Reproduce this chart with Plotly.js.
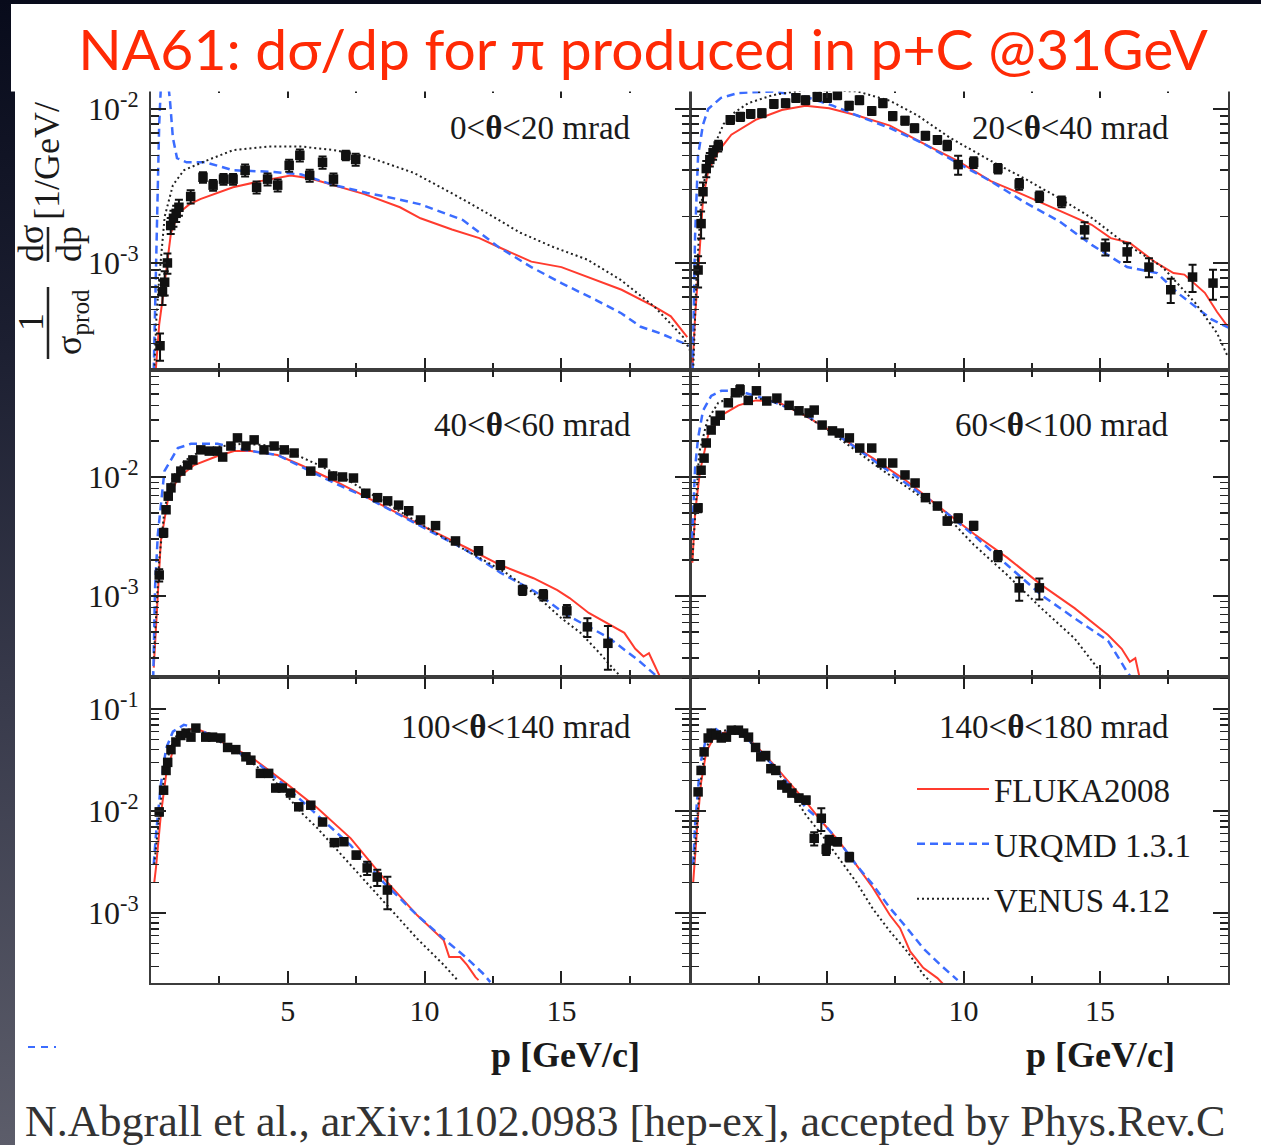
<!DOCTYPE html>
<html><head><meta charset="utf-8">
<script src="https://cdn.plot.ly/plotly-3.0.1.min.js"></script>
<style>
html,body{margin:0;padding:0;width:1261px;height:1145px;overflow:hidden;
background:linear-gradient(180deg,#080b1b 0%,#1c1f31 30%,#393b4c 62%,#5c5d6a 100%);}
#chart{width:1261px;height:1145px;}
</style></head><body><div id="chart"></div>
<script>
// ---------- data: panel 1 (0<theta<20 mrad) ----------
const p1_p=[0.33,0.42,0.5,0.6,0.72,0.82,0.92,1.02,1.45,1.9,2.27,2.65,3.0,3.44,3.86,4.26,4.63,5.05,5.44,5.8,6.27,6.67,7.12,7.48];
const p1_y=[2.9e-4,6.5e-4,7.5e-4,1.0e-3,1.75e-3,1.95e-3,2.1e-3,2.3e-3,2.7e-3,3.6e-3,3.2e-3,3.5e-3,3.5e-3,4.0e-3,3.1e-3,3.5e-3,3.2e-3,4.3e-3,5.0e-3,3.7e-3,4.5e-3,3.5e-3,5.0e-3,4.7e-3];
const p1_e=[20,18,18,15,12,12,12,12,10,8,8,8,8,9,9,9,9,9,9,9,9,9,7,9];
const f1_p=[0.12,0.18,0.3,0.47,0.73,1.0,1.4,1.8,2.4,3.0,4.0,5.1,5.8,6.7,7.8,9.1,9.85,11.0,12.0,12.7,13.9,15.0,16.2,17.2,18.4,19.0,19.6];
const f1_y=[1.5e-4,2.1e-4,4e-4,6.7e-4,1.57e-3,2.1e-3,2.4e-3,2.6e-3,2.85e-3,3.1e-3,3.4e-3,3.7e-3,3.55e-3,3.2e-3,2.8e-3,2.3e-3,1.95e-3,1.65e-3,1.45e-3,1.27e-3,1.02e-3,9.4e-4,7.8e-4,6.7e-4,5.2e-4,4.5e-4,3.3e-4];
const u1_p=[0.1,0.2,0.3,0.4,0.55,0.7,0.8,0.95,1.3,2.0,3.0,4.5,5.5,6.7,7.9,9.0,9.85,11.4,12.7,13.9,15.0,16.3,17.2,17.9,18.6,19.3,19.7];
const u1_y=[2e-4,1.5e-3,8e-3,2e-2,2e-2,1.1e-2,6.5e-3,4.8e-3,4.5e-3,4.5e-3,4.0e-3,3.9e-3,3.75e-3,3.2e-3,2.85e-3,2.6e-3,2.4e-3,1.9e-3,1.27e-3,9.4e-4,7.4e-4,5.7e-4,4.7e-4,3.85e-4,3.5e-4,3.1e-4,2.9e-4];
const v1_p=[0.12,0.2,0.3,0.5,0.8,1.2,2.0,3.0,4.3,5.5,6.7,7.9,9.6,11.1,12.3,13.5,14.7,15.95,17.15,18.4,19.1,19.45,19.7];
const v1_y=[2e-4,4.5e-4,8e-4,2e-3,3.2e-3,4e-3,4.6e-3,5.4e-3,5.7e-3,5.7e-3,5.4e-3,4.9e-3,3.85e-3,2.77e-3,2.1e-3,1.57e-3,1.27e-3,1.05e-3,7.8e-4,5.2e-4,3.85e-4,3.3e-4,2.7e-4];

// ---------- panel 2 (20<theta<40 mrad) ----------
const p2_p=[0.26,0.37,0.44,0.56,0.69,0.81,1.0,1.44,1.81,2.19,2.6,3.04,3.47,3.85,4.2,4.63,5.0,5.37,5.8,6.18,6.63,7.04,7.4,7.85,8.2,8.6,9.04,9.4,9.8,10.37,11.26,12.04,12.78,13.6,14.44,15.2,16.0,16.8,17.6,18.4,19.15];
const p2_y=[9.0e-4,1.8e-3,2.9e-3,4.1e-3,4.7e-3,5.2e-3,5.75e-3,8.5e-3,8.9e-3,9.3e-3,9.4e-3,1.08e-2,1.09e-2,1.18e-2,1.14e-2,1.2e-2,1.18e-2,1.23e-2,1.05e-2,1.14e-2,9.7e-3,1.09e-2,9.0e-3,8.4e-3,7.5e-3,6.7e-3,6.3e-3,5.8e-3,4.35e-3,4.5e-3,4.1e-3,3.25e-3,2.7e-3,2.5e-3,1.64e-3,1.27e-3,1.18e-3,9.4e-4,6.7e-4,8.1e-4,7.4e-4];
const p2_e=[23,20,15,12,10,10,8,6,6,6,6,6,6,6,6,6,6,6,6,6,6,6,6,6,6,6,6,7,14,8,7,8,8,8,12,12,14,14,18,20,22];
const f2_p=[0.05,0.15,0.26,0.44,0.63,1.0,1.48,2.37,3.33,4.2,5.07,6.07,7.3,8.5,9.78,11.0,12.2,13.5,14.7,15.4,16.1,17.0,17.7,18.1,18.85,19.3,19.7];
const f2_y=[2.0e-4,4.5e-4,8.4e-4,2.6e-3,3.95e-3,5.3e-3,6.8e-3,8.5e-3,9.85e-3,1.05e-2,1.01e-2,9.1e-3,7.8e-3,6.0e-3,4.6e-3,3.4e-3,2.77e-3,2.2e-3,1.77e-3,1.45e-3,1.35e-3,1.02e-3,8.6e-4,8.4e-4,6.4e-4,4.8e-4,3.85e-4];
const u2_p=[0.06,0.15,0.26,0.44,0.63,1.1,1.74,3.0,4.2,5.2,6.07,7.3,8.5,9.78,11.0,12.2,13.5,14.7,16.0,17.1,17.85,18.6,19.1,19.85];
const u2_y=[2e-4,1.5e-3,5e-3,7.9e-3,1.0e-2,1.18e-2,1.27e-2,1.3e-2,1.2e-2,1.05e-2,9.1e-3,7.5e-3,6.0e-3,4.45e-3,3.4e-3,2.5e-3,1.87e-3,1.31e-3,9.4e-4,8.6e-4,6.4e-4,5.0e-4,4.3e-4,3.7e-4];
const v2_p=[0.08,0.2,0.35,0.5,0.8,1.2,1.6,2.1,3.0,4.2,6.1,7.3,8.3,9.5,11.0,12.2,13.5,14.7,15.9,17.3,18.5,19.3,19.7];
const v2_y=[2e-4,8e-4,2.2e-3,3.5e-3,5.5e-3,8e-3,9.5e-3,1.09e-2,1.23e-2,1.33e-2,1.3e-2,1.13e-2,9.1e-3,6.5e-3,4.6e-3,3.56e-3,2.64e-3,1.96e-3,1.35e-3,9.4e-4,5.5e-4,3.5e-4,2.45e-4];

// ---------- panel 3 (40<theta<60 mrad) ----------
const p3_p=[0.3,0.46,0.55,0.63,0.73,0.91,1.09,1.34,1.53,1.82,2.13,2.43,2.62,2.92,3.16,3.47,3.77,4.13,4.5,4.87,5.23,5.84,6.28,6.64,7.0,7.4,7.85,8.28,8.65,9.05,9.42,9.85,10.4,11.13,11.97,12.77,13.58,14.34,15.2,15.95,16.7];
const p3_y=[1.5e-3,3.4e-3,5.3e-3,6.9e-3,8.1e-3,9.8e-3,1.12e-2,1.26e-2,1.39e-2,1.69e-2,1.65e-2,1.65e-2,1.47e-2,1.82e-2,2.13e-2,1.82e-2,2.05e-2,1.69e-2,1.82e-2,1.69e-2,1.59e-2,1.12e-2,1.31e-2,1.02e-2,1.0e-2,9.8e-3,7.3e-3,6.7e-3,6.3e-3,5.8e-3,5.2e-3,4.35e-3,3.9e-3,2.9e-3,2.4e-3,1.82e-3,1.12e-3,1.02e-3,7.5e-4,5.5e-4,4.0e-4];
const p3_e=[12,8,6,6,5,5,5,5,5,5,5,5,5,5,5,5,5,5,5,5,5,5,5,5,5,5,5,5,5,5,5,5,6,6,7,8,9,10,12,18,40];
const f3_p=[0.1,0.18,0.36,0.61,0.98,1.58,2.43,3.04,3.65,4.62,5.47,6.7,7.9,9.1,10.3,11.55,12.77,13.98,14.85,15.3,16.0,17.3,17.7,18.0,18.2,18.6];
const f3_y=[2.5e-4,5.7e-4,2.9e-3,6.3e-3,9.8e-3,1.26e-2,1.5e-2,1.65e-2,1.65e-2,1.53e-2,1.26e-2,9.3e-3,6.7e-3,4.8e-3,3.5e-3,2.53e-3,1.82e-3,1.41e-3,1.12e-3,9.6e-4,7.2e-4,4.9e-4,3.6e-4,3.1e-4,3.3e-4,2.1e-4];
const u3_p=[0.08,0.15,0.25,0.49,0.98,1.46,2.43,3.4,4.62,5.6,6.7,7.9,9.1,10.3,11.55,12.77,14.0,15.2,16.7,17.8,18.5];
const u3_y=[2e-4,1.2e-3,3.3e-3,1.12e-2,1.75e-2,1.9e-2,1.9e-2,1.69e-2,1.53e-2,1.19e-2,8.9e-3,6.7e-3,4.8e-3,3.4e-3,2.4e-3,1.57e-3,1.1e-3,6.9e-4,4.5e-4,2.9e-4,2.1e-4];
const v3_p=[0.1,0.3,0.5,0.8,1.2,1.8,2.5,3.3,4.2,5.0,6.0,7.0,8.0,9.0,10.0,11.0,12.0,13.0,14.0,15.0,15.7,16.4,17.0,17.3];
const v3_y=[3e-4,2e-3,5.5e-3,1.0e-2,1.35e-2,1.65e-2,1.8e-2,1.9e-2,1.85e-2,1.65e-2,1.3e-2,1.0e-2,7.3e-3,5.3e-3,3.9e-3,2.8e-3,2.1e-3,1.55e-3,1.05e-3,6.5e-4,4.9e-4,3.3e-4,2.3e-4,2.0e-4];

// ---------- panel 4 (60<theta<100 mrad) ----------
const p4_p=[0.26,0.37,0.48,0.56,0.74,0.89,1.07,1.37,1.63,1.8,2.1,2.4,2.78,3.15,3.6,3.96,4.33,4.52,4.81,5.19,5.44,5.81,6.19,6.63,7.0,7.4,7.85,8.22,8.6,9.04,9.4,9.8,10.37,11.26,12.04,12.78];
const p4_y=[5.5e-3,1.14e-2,1.44e-2,1.93e-2,2.48e-2,2.95e-2,3.3e-2,4.2e-2,5.1e-2,5.4e-2,4.4e-2,5.3e-2,4.35e-2,4.6e-2,4.0e-2,3.6e-2,3.45e-2,3.65e-2,2.73e-2,2.44e-2,2.34e-2,2.13e-2,1.75e-2,1.75e-2,1.31e-2,1.31e-2,1.04e-2,8.9e-3,6.7e-3,5.7e-3,4.27e-3,4.5e-3,3.9e-3,2.17e-3,1.17e-3,1.17e-3];
const p4_e=[8,6,5,5,5,5,5,5,5,9,5,5,5,5,5,5,5,5,5,5,5,5,5,5,5,5,5,5,6,6,7,8,8,10,22,20];
const f4_p=[0.05,0.15,0.33,0.63,1.11,1.74,2.37,3.11,4.22,5.44,6.67,7.9,9.15,10.4,11.6,12.85,14.07,15.3,15.8,16.1,16.3,16.45];
const f4_y=[1.9e-3,5e-3,1.12e-2,2.25e-2,3.3e-2,4.0e-2,4.4e-2,4.35e-2,3.25e-2,2.2e-2,1.44e-2,9.3e-3,5.5e-3,3.3e-3,2.1e-3,1.24e-3,7.9e-4,4.7e-4,3.6e-4,2.8e-4,3.0e-4,2.1e-4];
const u4_p=[0.04,0.15,0.26,0.44,0.74,1.11,1.74,2.37,3.11,4.22,5.44,6.67,7.9,9.15,10.4,11.6,12.85,14.07,15.3,16.0,16.2];
const u4_y=[3e-3,1.2e-2,2.13e-2,3.6e-2,4.8e-2,5.3e-2,5.3e-2,4.8e-2,4.2e-2,3.3e-2,2.2e-2,1.4e-2,8.8e-3,5.5e-3,3.2e-3,1.82e-3,1.02e-3,6.5e-4,4.2e-4,2.3e-4,2.0e-4];
const v4_p=[0.05,0.3,0.6,1.0,1.6,2.2,3.0,4.0,5.0,6.0,7.0,8.0,8.7,9.26,10.37,11.6,12.85,14.07,14.96,15.15];
const v4_y=[2e-3,1.6e-2,3e-2,4.2e-2,4.8e-2,4.7e-2,4.3e-2,3.5e-2,2.5e-2,1.7e-2,1.15e-2,8e-3,6.2e-3,5.0e-3,2.7e-3,1.5e-3,7.9e-4,4.4e-4,2.4e-4,2.05e-4];

// ---------- panel 5 (100<theta<140 mrad) ----------
const p5_p=[0.3,0.46,0.55,0.61,0.73,0.91,1.09,1.28,1.46,1.64,2.0,2.25,2.55,2.8,3.1,3.47,3.65,4.0,4.3,4.56,4.8,5.1,5.4,5.84,6.27,6.7,7.05,7.5,7.9,8.27,8.64];
const p5_y=[9.8e-3,1.6e-2,2.5e-2,3.0e-2,4.0e-2,4.75e-2,5.5e-2,5.8e-2,5.3e-2,6.5e-2,5.3e-2,5.3e-2,5.2e-2,4.2e-2,4.0e-2,3.4e-2,3.15e-2,2.34e-2,2.34e-2,1.68e-2,1.68e-2,1.5e-2,1.1e-2,1.14e-2,7.8e-3,4.9e-3,5.0e-3,3.7e-3,2.77e-3,2.25e-3,1.68e-3];
const p5_e=[8,6,5,5,5,5,5,5,5,5,5,5,5,5,5,5,5,5,5,5,5,5,6,6,6,7,7,8,15,18,35];
const f5_p=[0.12,0.18,0.36,0.55,0.85,1.2,1.58,2.07,2.8,3.65,4.87,6.08,7.3,8.5,9.73,10.7,10.9,11.3,11.55,11.86,11.97];
const f5_y=[2e-3,2.75e-3,9.2e-3,2.25e-2,4.4e-2,6.0e-2,6.5e-2,5.8e-2,4.4e-2,3.4e-2,1.93e-2,1.07e-2,5.4e-3,2.2e-3,9.5e-4,5.4e-4,3.7e-4,3.7e-4,3.1e-4,2.35e-4,2.2e-4];
const u5_p=[0.1,0.18,0.36,0.55,0.8,1.2,1.7,2.43,3.2,4.0,4.87,6.08,7.3,8.5,9.73,10.7,11.55,12.17,12.4];
const u5_y=[3e-3,5.8e-3,1.8e-2,4.1e-2,6.0e-2,7e-2,6.5e-2,5e-2,3.8e-2,2.8e-2,1.8e-2,9.2e-3,4.6e-3,2.0e-3,9.5e-4,5.6e-4,3.6e-4,2.5e-4,2.1e-4];
const v5_p=[0.12,0.35,0.55,0.85,1.2,1.6,2.1,2.8,3.6,4.5,5.47,6.08,7.3,8.5,9.73,10.7,11.2];
const v5_y=[3e-3,1.2e-2,3e-2,5.2e-2,6.3e-2,6.3e-2,5.6e-2,4.3e-2,3.1e-2,2.0e-2,9.8e-3,6.8e-3,2.95e-3,1.29e-3,5.6e-4,3.1e-4,2.2e-4];

// ---------- panel 6 (140<theta<180 mrad) ----------
const p6_p=[0.26,0.37,0.48,0.63,0.74,0.93,1.11,1.3,1.48,1.74,1.93,2.11,2.37,2.56,2.74,2.93,3.11,3.33,3.52,3.7,3.96,4.22,4.52,4.78,4.96,5.07,5.37,5.81];
const p6_y=[1.54e-2,2.5e-2,3.8e-2,5.2e-2,5.8e-2,5.55e-2,5.2e-2,5.3e-2,6.2e-2,6.2e-2,5.8e-2,5.3e-2,4.2e-2,3.4e-2,3.5e-2,2.6e-2,2.5e-2,1.8e-2,1.68e-2,1.5e-2,1.34e-2,1.28e-2,5.4e-3,8.5e-3,4.2e-3,5.2e-3,5.0e-3,3.55e-3];
const p6_e=[6,5,5,5,5,5,5,5,5,5,5,5,5,6,6,6,6,7,7,7,8,8,15,25,12,10,8,10];
const f6_p=[0.08,0.15,0.26,0.37,0.56,0.89,1.37,1.85,2.37,2.96,3.59,4.22,4.81,5.44,6.07,6.67,7.3,7.67,8.04,8.52,9.04,9.26];
const f6_y=[2e-3,3.7e-3,9.1e-3,1.9e-2,3.8e-2,5.6e-2,6e-2,5.8e-2,4.4e-2,3.0e-2,1.9e-2,1.23e-2,7.8e-3,5.0e-3,2.95e-3,1.77e-3,9.5e-4,7.1e-4,4.2e-4,2.9e-4,2.3e-4,2e-4];
const u6_p=[0.08,0.15,0.33,0.52,0.81,1.11,1.48,2.0,2.37,2.96,3.59,4.22,4.81,5.44,6.07,6.67,7.3,7.93,8.52,9.15,9.78];
const u6_y=[3e-3,7.3e-3,2.8e-2,4.7e-2,6.7e-2,5.8e-2,6.2e-2,5.3e-2,4.2e-2,2.9e-2,1.8e-2,1.07e-2,7.8e-3,5.0e-3,2.95e-3,1.9e-3,1.12e-3,7.1e-4,4.5e-4,3.1e-4,2.2e-4];
const v6_p=[0.1,0.3,0.5,0.8,1.3,1.8,2.4,3.0,3.6,4.22,4.81,5.44,6.07,6.67,7.3,7.93,8.52,8.8];
const v6_y=[3e-3,1.5e-2,3.8e-2,5.8e-2,6.2e-2,5.8e-2,4.2e-2,2.8e-2,1.65e-2,9.1e-3,5.8e-3,3.45e-3,2.0e-3,1.1e-3,6.6e-4,4.2e-4,2.5e-4,2.1e-4];

// ---------- labels ----------
const panelLabels=['0&lt;<b>θ</b>&lt;20 mrad','20&lt;<b>θ</b>&lt;40 mrad','40&lt;<b>θ</b>&lt;60 mrad','60&lt;<b>θ</b>&lt;100 mrad','100&lt;<b>θ</b>&lt;140 mrad','140&lt;<b>θ</b>&lt;180 mrad'];
const modelNames=['FLUKA2008','URQMD 1.3.1','VENUS 4.12'];
const xTickVals=[5,10,15], xTickText=['5','10','15'];
const yTickVals=[1e-3,1e-2,1e-1], yTickText=['10<sup>-3</sup>','10<sup>-2</sup>','10<sup>-1</sup>'];
const titleText='NA61: dσ/dp for π produced in p+C @31GeV';
const citeText='N.Abgrall et al., arXiv:1102.0983 [hep-ex], accepted by Phys.Rev.C';

// ---------- layout helpers ----------
const W=1261,H=1145;
const px=X=>X/W, py=Y=>1-Y/H;
const colDom=[[px(151),px(690)],[px(691),px(1228)]];
const rowDom=[[py(370),py(86)],[py(677),py(370)],[py(983),py(677)]];
const rowRange=[[-3.695,-1.851],[-3.681,-1.101],[-3.686,-0.686]];
const labelY=[128,425,727];
const labelX=[633,1171];
const serif='Liberation Serif, Times New Roman, serif';

const panels=[
 {d:[p1_p,p1_y,p1_e],m:[[f1_p,f1_y],[u1_p,u1_y],[v1_p,v1_y]]},
 {d:[p2_p,p2_y,p2_e],m:[[f2_p,f2_y],[u2_p,u2_y],[v2_p,v2_y]]},
 {d:[p3_p,p3_y,p3_e],m:[[f3_p,f3_y],[u3_p,u3_y],[v3_p,v3_y]]},
 {d:[p4_p,p4_y,p4_e],m:[[f4_p,f4_y],[u4_p,u4_y],[v4_p,v4_y]]},
 {d:[p5_p,p5_y,p5_e],m:[[f5_p,f5_y],[u5_p,u5_y],[v5_p,v5_y]]},
 {d:[p6_p,p6_y,p6_e],m:[[f6_p,f6_y],[u6_p,u6_y],[v6_p,v6_y]]}
];
const lineStyles=[
 {color:'#ff3b2e',width:2,dash:'solid'},
 {color:'#3b6cff',width:2.5,dash:'8px,5px'},
 {color:'#222222',width:2,dash:'2px,3px'}
];
const groups=['f','u','v'];

const traces=[];
const layout={
  width:W,height:H,margin:{l:0,r:0,t:0,b:0},
  paper_bgcolor:'rgba(0,0,0,0)',plot_bgcolor:'rgba(0,0,0,0)',
  showlegend:true,
  legend:{x:px(912),y:py(761),xanchor:'left',yanchor:'top',bgcolor:'rgba(0,0,0,0)',
    font:{family:serif,size:33,color:'#1a1a1a'},itemwidth:72,traceorder:'grouped',tracegroupgap:9},
  title:{text:titleText,font:{family:'Lato, Open Sans, sans-serif',size:57,color:'#ff2a05'},
    x:px(643),xanchor:'center',xref:'paper',y:py(50),yanchor:'middle',yref:'paper'},
  shapes:[],annotations:[]
};

function minorVals(r){
  const out=[];
  for(let k=-5;k<=0;k++){for(let m=2;m<=9;m++){const v=m*Math.pow(10,k);
    const l=Math.log10(v); if(l>r[0]&&l<r[1]) out.push(v);}}
  return out;
}

panels.forEach((P,i)=>{
  const n=i+1, col=i%2, row=Math.floor(i/2);
  const xa='x'+(n===1?'':n), ya='y'+(n===1?'':n);
  P.m.forEach((M,j)=>{
    traces.push({type:'scatter',mode:'lines',x:M[0],y:M[1],xaxis:xa,yaxis:ya,
      name:modelNames[j],legendgroup:groups[j],showlegend:(n===6),
      line:Object.assign({shape:'linear'},lineStyles[j]),hoverinfo:'skip'});
  });
  traces.push({type:'scatter',mode:'markers',x:P.d[0],y:P.d[1],xaxis:xa,yaxis:ya,
    name:'NA61 data',showlegend:false,
    marker:{symbol:'square',size:9.5,color:'#111'},
    error_y:{type:'data',array:P.d[1].map((v,k)=>v*P.d[2][k]/100),visible:true,color:'#111',thickness:2,width:4},
    hoverinfo:'x+y'});
  const axCommon={showline:true,mirror:'ticks',linecolor:'#3c3c3c',linewidth:2,
    ticks:'inside',tickwidth:2,tickcolor:'#222',showgrid:false,zeroline:false,fixedrange:true};
  layout['xaxis'+(n===1?'':n)]=Object.assign({},axCommon,{
    domain:colDom[col],anchor:ya,range:[0,19.7],tickmode:'array',tickvals:xTickVals,ticktext:xTickText,
    ticklen:12,showticklabels:(row===2),tickfont:{family:serif,size:30,color:'#1a1a1a'},
    minor:{tickmode:'array',tickvals:[2.5,7.5,12.5,17.5],ticks:'inside',ticklen:7,tickwidth:2,tickcolor:'#222',showgrid:false}});
  layout['yaxis'+(n===1?'':n)]=Object.assign({},axCommon,{
    domain:rowDom[row],anchor:xa,type:'log',range:rowRange[row],tickmode:'array',tickvals:yTickVals,ticktext:yTickText,
    ticklen:15,showticklabels:(col===0),ticklabelstandoff:4,tickfont:{family:serif,size:32,color:'#1a1a1a'},
    minor:{tickmode:'array',tickvals:minorVals(rowRange[row]),ticks:'inside',ticklen:8,tickwidth:1.5,tickcolor:'#222',showgrid:false}});
  layout.annotations.push({xref:'paper',yref:'paper',x:px(labelX[col]),y:py(labelY[row]),xanchor:'right',yanchor:'middle',
    text:panelLabels[i],showarrow:false,font:{family:serif,size:33,color:'#1a1a1a'}});
});

// white sheets (chart page and title box)
layout.shapes.push({type:'rect',xref:'paper',yref:'paper',x0:px(15),x1:1,y0:0,y1:py(91),fillcolor:'#ffffff',line:{width:0},layer:'below'});
layout.shapes.push({type:'rect',xref:'paper',yref:'paper',x0:px(11),x1:1,y0:py(91.5),y1:py(4),fillcolor:'#ffffff',line:{width:0},layer:'above'});
// fraction bars of y title
layout.shapes.push({type:'line',xref:'paper',yref:'paper',x0:px(48),x1:px(48),y0:py(287),y1:py(359),line:{color:'#222',width:2.5},layer:'above'});
layout.shapes.push({type:'line',xref:'paper',yref:'paper',x0:px(48),x1:px(48),y0:py(227),y1:py(262),line:{color:'#222',width:2.5},layer:'above'});
// small blue stray dash at bottom left
layout.shapes.push({type:'line',xref:'paper',yref:'paper',x0:px(28),x1:px(56),y0:py(1047),y1:py(1047),line:{color:'#3b6cff',width:2,dash:'7px,6px'},layer:'above'});

const ytFont={family:serif,size:36,color:'#1a1a1a'};
layout.annotations.push(
 {xref:'paper',yref:'paper',x:px(31),y:py(322),text:'1',textangle:-90,showarrow:false,font:ytFont,xanchor:'center',yanchor:'middle'},
 {xref:'paper',yref:'paper',x:px(71),y:py(322),text:'σ<sub>prod</sub>',textangle:-90,showarrow:false,font:ytFont,xanchor:'center',yanchor:'middle'},
 {xref:'paper',yref:'paper',x:px(31),y:py(244),text:'dσ',textangle:-90,showarrow:false,font:ytFont,xanchor:'center',yanchor:'middle'},
 {xref:'paper',yref:'paper',x:px(69),y:py(244),text:'dp',textangle:-90,showarrow:false,font:ytFont,xanchor:'center',yanchor:'middle'},
 {xref:'paper',yref:'paper',x:px(47),y:py(222),text:'[1/GeV/',textangle:-90,showarrow:false,font:ytFont,xanchor:'center',yanchor:'bottom'},
 {xref:'paper',yref:'paper',x:px(565),y:py(1055),text:'<b>p [GeV/c]</b>',showarrow:false,font:{family:serif,size:36,color:'#1a1a1a'},xanchor:'center',yanchor:'middle'},
 {xref:'paper',yref:'paper',x:px(1100),y:py(1055),text:'<b>p [GeV/c]</b>',showarrow:false,font:{family:serif,size:36,color:'#1a1a1a'},xanchor:'center',yanchor:'middle'},
 {xref:'paper',yref:'paper',x:px(625),y:py(1121),text:citeText,showarrow:false,font:{family:serif,size:44,color:'#333333'},xanchor:'center',yanchor:'middle'}
);

Plotly.newPlot('chart',traces,layout,{displayModeBar:false,staticPlot:true});
</script>
</body></html>
